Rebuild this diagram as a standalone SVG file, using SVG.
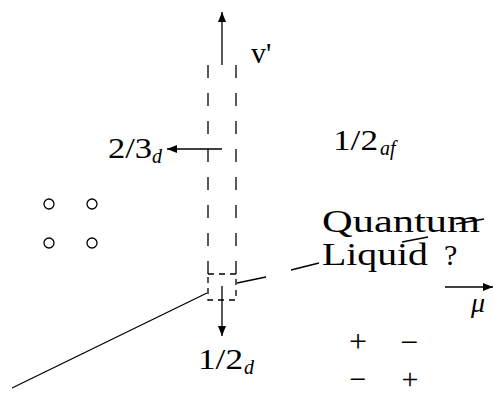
<svg xmlns="http://www.w3.org/2000/svg" width="494" height="396" viewBox="0 0 494 396">
<style>
.ln{stroke:#000;stroke-width:1.3;fill:none}
.dash{stroke:#000;stroke-width:1.3;fill:none;stroke-dasharray:13 15}
.bx{stroke:#000;stroke-width:1.3;fill:none;stroke-dasharray:6 5}
.t{fill:#000}
.i{font-style:italic;fill:#000}
</style>
<defs>
<marker id="ah" viewBox="0 0 10 8" refX="10" refY="4" markerWidth="10" markerHeight="8" markerUnits="userSpaceOnUse" orient="auto">
<path d="M0,0 L10,4 L0,8 Z" fill="#000"/>
</marker>
</defs>
<rect width="494" height="396" fill="#fff"/>
<g id="connectors">
<line class="ln" x1="222" y1="65" x2="222" y2="12" marker-end="url(#ah)"/>
<line class="ln" x1="222" y1="286" x2="222" y2="336" marker-end="url(#ah)"/>
<line class="ln" x1="222" y1="149" x2="167" y2="149" marker-end="url(#ah)"/>
<line class="ln" x1="445" y1="287" x2="493" y2="287" marker-end="url(#ah)"/>
<line class="dash" x1="208" y1="65" x2="208" y2="274"/>
<line class="dash" x1="236" y1="65" x2="236" y2="274"/>
<line class="ln" x1="12" y1="388" x2="207" y2="293"/>
<line class="ln" x1="237" y1="283" x2="266" y2="277"/>
<line class="ln" x1="291" y1="270" x2="319" y2="263"/>
<line class="ln" x1="402" y1="242" x2="428" y2="237"/>
<line class="ln" x1="456" y1="224" x2="484" y2="219"/>
</g>
<g id="box"><rect class="bx" x="208" y="274" width="28" height="26"/></g>
<g id="circles">
<circle class="ln" cx="49" cy="204" r="5"/>
<circle class="ln" cx="92" cy="204" r="5"/>
<circle class="ln" cx="49" cy="243" r="5"/>
<circle class="ln" cx="92" cy="243" r="5"/>
</g>
<g font-family="'Liberation Serif', 'Times New Roman', serif">
<g id="signs">
<text class="t" x="358" y="352" font-size="32" text-anchor="middle">+</text>
<text class="t" x="409" y="353" font-size="32" text-anchor="middle">−</text>
<text class="t" x="358" y="389" font-size="30" text-anchor="middle">−</text>
<text class="t" x="410" y="389" font-size="30" text-anchor="middle">+</text>
</g>
<g id="label-v"><text class="t" x="251" y="63" font-size="30">v'</text></g>
<g id="label-23d"><text class="t" x="108" y="158" font-size="29" textLength="44" lengthAdjust="spacingAndGlyphs">2/3</text><text class="i" x="152" y="163" font-size="20">d</text></g>
<g id="label-12af"><text class="t" x="333" y="150" font-size="29" textLength="45" lengthAdjust="spacingAndGlyphs">1/2</text><text class="i" x="380" y="155" font-size="20">af</text></g>
<g id="label-12d"><text class="t" x="198" y="369" font-size="29" textLength="45" lengthAdjust="spacingAndGlyphs">1/2</text><text class="i" x="244" y="374" font-size="20">d</text></g>
<g id="label-ql">
<text class="t" x="322" y="232" font-size="32" textLength="158" lengthAdjust="spacingAndGlyphs">Quantum</text>
<text class="t" x="322" y="265" font-size="32" textLength="106" lengthAdjust="spacingAndGlyphs">Liquid</text>
<text class="t" x="444" y="265" font-size="30">?</text>
</g>
<g id="label-mu"><text class="i" x="471" y="312" font-size="28">μ</text></g>
</g>
</svg>
